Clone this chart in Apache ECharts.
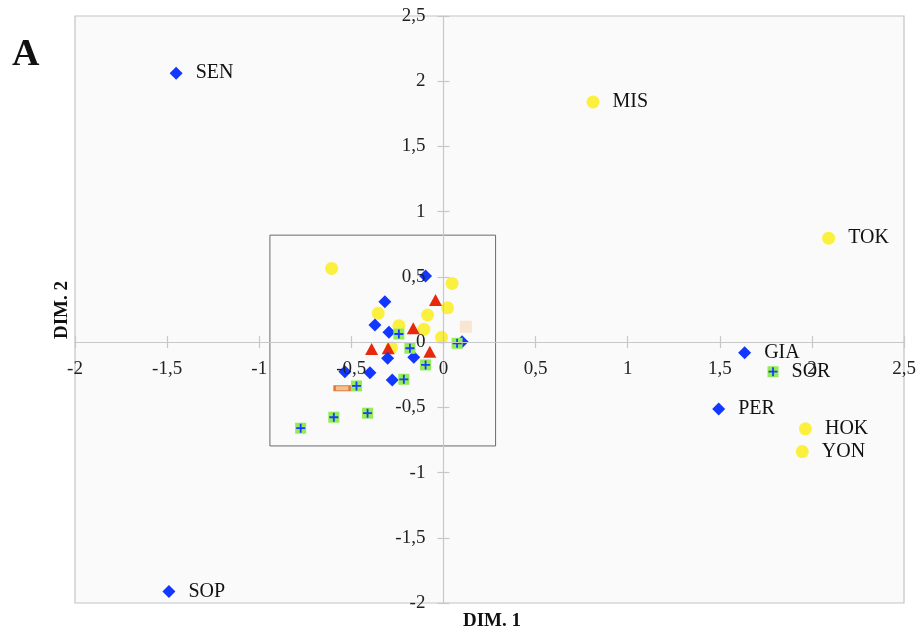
<!DOCTYPE html>
<html>
<head>
<meta charset="utf-8">
<script src="https://cdn.jsdelivr.net/npm/echarts@6/dist/echarts.min.js"></script>
<style>
html,body{margin:0;padding:0;background:#fff;}
#chart{width:922px;height:635px;}
</style>
</head>
<body>
<div id="chart"></div>
<script>
// Axis ticks
const axisMin = -2, axisMax = 2.5, axisStep = 0.5;

// Series data: [dim1, dim2, label]
const bluePoints = [
  [-1.451, 2.062, 'SEN'], [1.635, -0.081, 'GIA'], [1.494, -0.512, 'PER'], [-1.490, -1.911, 'SOP'],
  [-0.097, 0.506, ''], [-0.318, 0.309, ''], [-0.372, 0.131, ''], [-0.296, 0.075, ''],
  [0.101, 0.003, ''], [-0.303, -0.124, ''], [-0.161, -0.116, ''], [-0.399, -0.234, ''],
  [-0.278, -0.290, ''], [-0.535, -0.227, '']
];
const yellowPoints = [
  [0.812, 1.841, 'MIS'], [2.091, 0.797, 'TOK'], [1.965, -0.665, 'HOK'], [1.948, -0.839, 'YON'],
  [-0.607, 0.565, ''], [0.047, 0.450, ''], [0.022, 0.263, ''], [-0.354, 0.221, ''],
  [-0.086, 0.208, ''], [-0.242, 0.126, ''], [-0.106, 0.098, ''], [-0.010, 0.037, ''],
  [-0.282, -0.043, '']
];
const redPoints = [
  [-0.043, 0.322, ''], [-0.164, 0.106, ''], [-0.390, -0.053, ''], [-0.300, -0.047, ''], [-0.074, -0.074, '']
];
const greenPoints = [
  [1.789, -0.227, 'SOR'],
  [-0.242, 0.062, ''], [-0.182, -0.047, ''], [0.074, -0.009, ''], [-0.097, -0.175, ''],
  [-0.215, -0.285, ''], [-0.472, -0.336, ''], [-0.412, -0.545, ''], [-0.595, -0.576, ''],
  [-0.775, -0.660, '']
];
const orangePoints = [[-0.550, -0.354, '']];
const beigePoints = [[0.122, 0.118, '']];
// Zoom box corners (data units)
const boxCorners = [[-0.942, 0.820], [0.283, -0.796]];

const fmt = v => String(v).replace('.', ',');
const serif = '"Liberation Serif", "DejaVu Serif", serif';
const lineCol = '#c8c8c8';
const G = { left: 75, right: 18, top: 16, bottom: 32 };

const chart = echarts.init(document.getElementById('chart'), null, { renderer: 'canvas' });
const plotW = chart.getWidth() - G.left - G.right;
const plotH = chart.getHeight() - G.top - G.bottom;
const zeroFrac = (0 - axisMin) / (axisMax - axisMin);
// Shift the axes from the grid edge onto the zero lines
const xOffset = -plotH * zeroFrac;
const yOffset = -plotW * zeroFrac;

const pointLabel = {
  show: true, position: 'right', distance: 13,
  formatter: p => p.value[2], fontFamily: serif, fontSize: 20, color: '#111'
};

function mainAxis(dim) {
  return {
    type: 'value', min: axisMin, max: axisMax, interval: axisStep, z: 5,
    position: dim === 'x' ? 'bottom' : 'left',
    offset: dim === 'x' ? xOffset : yOffset,
    axisLine: { show: true, onZero: false, lineStyle: { color: lineCol, width: 1.2 } },
    axisTick: { show: true, inside: false, length: 6, lineStyle: { color: lineCol, width: 1.2 } },
    axisLabel: {
      show: true, formatter: fmt, fontFamily: serif, fontSize: 19, color: '#222',
      margin: dim === 'x' ? 17 : 18, showMinLabel: true, showMaxLabel: true, hideOverlap: false
    },
    splitLine: { show: false }
  };
}
function tickAxis(dim) {
  return {
    type: 'value', min: axisMin, max: axisMax, interval: axisStep, z: 5,
    position: dim === 'x' ? 'bottom' : 'left',
    offset: dim === 'x' ? xOffset : yOffset,
    axisLine: { show: false, onZero: false },
    axisTick: { show: true, inside: true, length: 6, lineStyle: { color: lineCol, width: 1.2 } },
    axisLabel: { show: false },
    splitLine: { show: false }
  };
}

chart.setOption({
  animation: false,
  backgroundColor: '#ffffff',
  grid: {
    left: G.left, right: G.right, top: G.top, bottom: G.bottom,
    show: true, backgroundColor: '#fafafa', borderColor: '#c4c4c4', borderWidth: 1.2
  },
  xAxis: [mainAxis('x'), tickAxis('x')],
  yAxis: [mainAxis('y'), tickAxis('y')],
  graphic: [
    { type: 'text', left: 12, top: 36, style: { text: 'A', font: 'bold 38px ' + serif, fill: '#111' } },
    { type: 'text', x: 492, y: 621, style: { text: 'DIM. 1', font: 'bold 19px ' + serif, fill: '#111', align: 'center', verticalAlign: 'middle' } },
    { type: 'text', x: 62, y: 310, rotation: Math.PI / 2, style: { text: 'DIM. 2', font: 'bold 19px ' + serif, fill: '#111', align: 'center', verticalAlign: 'middle' } }
  ],
  series: [
    {
      type: 'scatter', data: [], silent: true,
      markArea: {
        silent: true,
        itemStyle: { color: 'rgba(0,0,0,0)', borderColor: '#6a6a6a', borderWidth: 1 },
        data: [[{ coord: boxCorners[0] }, { coord: boxCorners[1] }]]
      }
    },
    {
      type: 'scatter', name: 'yellow', data: yellowPoints, symbol: 'circle', symbolSize: 13,
      itemStyle: { color: '#fbf03e', opacity: 1 }, label: pointLabel
    },
    {
      type: 'scatter', name: 'beige', data: beigePoints, symbol: 'rect', symbolSize: 12,
      itemStyle: { color: '#f8e6d2', opacity: 1 }
    },
    {
      type: 'scatter', name: 'red', data: redPoints, symbol: 'triangle', symbolSize: [13, 12],
      itemStyle: { color: '#e8280c', opacity: 1 }
    },
    {
      type: 'scatter', name: 'blue', data: bluePoints, symbol: 'diamond', symbolSize: 13,
      itemStyle: { color: '#1238ff', opacity: 1 }, label: pointLabel
    },
    {
      type: 'scatter', name: 'orange', data: orangePoints, symbol: 'rect', symbolSize: [15, 5],
      itemStyle: { color: '#f3c08f', borderColor: '#e07b39', borderWidth: 1.5, opacity: 1 }
    },
    {
      type: 'scatter', name: 'green', data: greenPoints, symbol: 'rect', symbolSize: 11,
      itemStyle: { color: '#92ec55', opacity: 1 }, label: pointLabel
    },
    {
      type: 'scatter', name: 'green-plus', data: greenPoints, symbol: 'path://M4,0H6V4H10V6H6V10H4V6H0V4H4Z', symbolSize: 9,
      itemStyle: { color: '#1a3cff', opacity: 1 }
    }
  ]
});
</script>
</body>
</html>
